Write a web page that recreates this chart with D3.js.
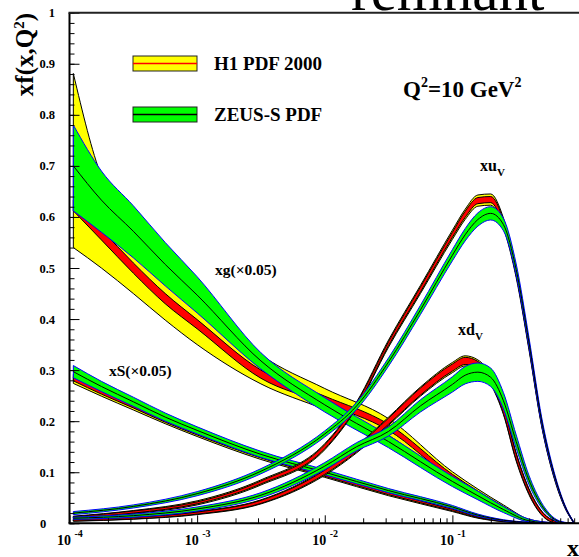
<!DOCTYPE html>
<html>
<head>
<meta charset="utf-8">
<script src="https://cdn.jsdelivr.net/npm/d3@7"></script>
<style>
  body { margin: 0; background: #fff; }
  svg text { font-family: 'Liberation Serif', 'Times New Roman', Times, serif; font-weight: bold; fill: #000; }
  .axis path, .axis line { stroke: #000; }
</style>
</head>
<body>
<div id="chart"></div>
<script>
// log10(x) sampling points
const logXGrid    = [-3.97, -3.75, -3.5, -3.25, -3, -2.5, -2, -1.5, -1, -0.8, -0.6, -0.4, -0.2, -0.05];
const logXValGrid = [-3.97, -3.5, -3, -2.5, -2, -1.75, -1.5, -1.25, -1, -0.9, -0.8, -0.7, -0.6, -0.5, -0.4, -0.3, -0.2, -0.12, -0.05];

// xg (x0.05), H1 band edges
const h1GluonTotHi = [0.881, 0.680, 0.600, 0.520, 0.445, 0.330, 0.264, 0.205, 0.101, 0.067, 0.036, 0.008, 0.001, 0];
const h1GluonExpHi = [0.632, 0.575, 0.510, 0.450, 0.399, 0.300, 0.249, 0.194, 0.096, 0.063, 0.033, 0.006, 0.0005, 0];
const h1GluonExpLo = [0.612, 0.555, 0.490, 0.430, 0.381, 0.284, 0.235, 0.182, 0.086, 0.055, 0.027, 0.004, 0.0001, 0];
const h1GluonTotLo = [0.540, 0.500, 0.450, 0.398, 0.350, 0.273, 0.223, 0.172, 0.080, 0.050, 0.024, 0.003, 0, 0];
// xg (x0.05), ZEUS-S
const zeusGluonHi  = [0.780, 0.690, 0.622, 0.550, 0.483, 0.334, 0.246, 0.172, 0.092, 0.063, 0.033, 0.008, 0.001, 0];
const zeusGluonMid = [0.700, 0.633, 0.572, 0.507, 0.447, 0.318, 0.232, 0.160, 0.082, 0.054, 0.027, 0.005, 0, 0];
const zeusGluonLo  = [0.612, 0.570, 0.520, 0.465, 0.412, 0.302, 0.218, 0.148, 0.072, 0.046, 0.021, 0.003, 0, 0];

// xS (x0.05)
const h1SeaMid   = [0.283, 0.257, 0.229, 0.201, 0.176, 0.130, 0.094, 0.058, 0.026, 0.012, 0.004, 0.001, 0, 0];
const h1SeaTot   = [0.009, 0.008, 0.007, 0.006, 0.006, 0.005, 0.004, 0.004, 0.003, 0.002, 0.001, 0.0005, 0, 0];
const h1SeaExp   = [0.004, 0.004, 0.003, 0.003, 0.003, 0.002, 0.002, 0.002, 0.0015, 0.001, 0.0005, 0, 0, 0];
const zeusSeaMid = [0.297, 0.268, 0.238, 0.208, 0.182, 0.135, 0.100, 0.064, 0.032, 0.016, 0.006, 0.0015, 0, 0];
const zeusSeaErr = [0.012, 0.010, 0.009, 0.008, 0.007, 0.006, 0.005, 0.004, 0.003, 0.002, 0.001, 0.0005, 0, 0];

// xuV
const h1XuvMid   = [0.012, 0.022, 0.040, 0.080, 0.150, 0.232, 0.352, 0.458, 0.565, 0.605, 0.632, 0.634, 0.588, 0.490, 0.348, 0.195, 0.090, 0.033, 0.002];
const h1XuvTot   = [0.002, 0.003, 0.004, 0.005, 0.006, 0.006, 0.007, 0.008, 0.009, 0.010, 0.011, 0.011, 0.010, 0.009, 0.008, 0.006, 0.004, 0.002, 0.001];
const h1XuvExp   = [0.001, 0.002, 0.002, 0.003, 0.004, 0.004, 0.004, 0.005, 0.005, 0.006, 0.006, 0.006, 0.006, 0.005, 0.005, 0.004, 0.002, 0.001, 0.0005];
const zeusXuvMid = [0.020, 0.033, 0.058, 0.102, 0.175, 0.230, 0.316, 0.418, 0.525, 0.565, 0.595, 0.607, 0.585, 0.497, 0.355, 0.200, 0.094, 0.035, 0.002];
const zeusXuvErr = [0.003, 0.003, 0.004, 0.005, 0.006, 0.007, 0.008, 0.009, 0.011, 0.012, 0.013, 0.013, 0.012, 0.011, 0.009, 0.007, 0.004, 0.002, 0.001];

// xdV
const h1XdvMid   = [0.006, 0.010, 0.020, 0.042, 0.100, 0.145, 0.200, 0.258, 0.305, 0.318, 0.310, 0.282, 0.222, 0.130, 0.062, 0.020, 0.003, 0.0005, 0];
const h1XdvTot   = [0.002, 0.002, 0.003, 0.004, 0.006, 0.007, 0.008, 0.009, 0.010, 0.010, 0.010, 0.010, 0.009, 0.008, 0.006, 0.004, 0.002, 0.001, 0];
const h1XdvExp   = [0.0015, 0.0015, 0.002, 0.003, 0.004, 0.005, 0.006, 0.007, 0.007, 0.007, 0.007, 0.007, 0.007, 0.006, 0.004, 0.003, 0.0015, 0.0005, 0];
const zeusXdvMid = [0.010, 0.015, 0.028, 0.055, 0.112, 0.150, 0.180, 0.230, 0.272, 0.290, 0.296, 0.286, 0.240, 0.160, 0.085, 0.035, 0.008, 0.001, 0];
const zeusXdvErr = [0.002, 0.003, 0.004, 0.005, 0.007, 0.008, 0.009, 0.012, 0.015, 0.017, 0.018, 0.018, 0.016, 0.013, 0.009, 0.005, 0.002, 0.001, 0];

const xDecades = [-4, -3, -2, -1];
const yMajor = [0, 0.1, 0.2, 0.3, 0.4, 0.5, 0.6, 0.7, 0.8, 0.9, 1];

const width = 579, height = 557;
const plot = { left: 69.5, right: 580, top: 12.7, bottom: 523.3 };

const x = d3.scaleLog().domain([1e-4, 1]).range([plot.left, plot.right]);
const y = d3.scaleLinear().domain([0, 1]).range([plot.bottom, plot.top]);

const svg = d3.select('#chart').append('svg')
    .attr('width', width)
    .attr('height', height);

// big title text from the page above, cut by the window
svg.append('text')
    .attr('x', 351).attr('y', 10)
    .style('font-weight', 'normal')
    .style('font-size', '59px')
    .text('remnant');

svg.append('clipPath').attr('id', 'clip')
  .append('rect')
    .attr('x', plot.left).attr('y', plot.top)
    .attr('width', plot.right - plot.left)
    .attr('height', plot.bottom - plot.top + 1);

const g = svg.append('g').attr('clip-path', 'url(#clip)');

const pts = (grid, lo, hi) => grid.map((l, i) => ({ x: Math.pow(10, l), lo: lo[i], hi: hi[i] }));

const area = d3.area()
    .curve(d3.curveMonotoneX)
    .x(d => x(d.x))
    .y0(d => y(d.lo))
    .y1(d => y(d.hi));

const line = d3.line()
    .curve(d3.curveMonotoneX)
    .x(d => x(d.x))
    .y(d => y(d.hi));

function band(grid, lo, hi, fill, stroke) {
  g.append('path')
      .datum(pts(grid, lo, hi))
      .attr('d', area)
      .attr('fill', fill)
      .attr('stroke', stroke)
      .attr('stroke-width', 1);
}

function curve(grid, vals, stroke) {
  g.append('path')
      .datum(pts(grid, vals, vals))
      .attr('d', line)
      .attr('fill', 'none')
      .attr('stroke', stroke)
      .attr('stroke-width', 1);
}

const minus = (m, e) => m.map((v, i) => v - e[i]);
const plus = (m, e) => m.map((v, i) => v + e[i]);

function h1Sym(grid, mid, tot, exp) {
  band(grid, minus(mid, tot), plus(mid, tot), '#ffff00', '#000');
  band(grid, minus(mid, exp), plus(mid, exp), '#ff0000', '#000');
}
function zeusSym(grid, mid, err) {
  band(grid, minus(mid, err), plus(mid, err), '#00ff00', '#0000ff');
  curve(grid, mid, '#000');
}

// gluon
band(logXGrid, h1GluonTotLo, h1GluonTotHi, '#ffff00', '#000');
band(logXGrid, h1GluonExpLo, h1GluonExpHi, '#ff0000', '#000');
band(logXGrid, zeusGluonLo, zeusGluonHi, '#00ff00', '#0000ff');
curve(logXGrid, zeusGluonMid, '#000');
// sea
h1Sym(logXGrid, h1SeaMid, h1SeaTot, h1SeaExp);
zeusSym(logXGrid, zeusSeaMid, zeusSeaErr);
// valence
h1Sym(logXValGrid, h1XuvMid, h1XuvTot, h1XuvExp);
zeusSym(logXValGrid, zeusXuvMid, zeusXuvErr);
h1Sym(logXValGrid, h1XdvMid, h1XdvTot, h1XdvExp);
zeusSym(logXValGrid, zeusXdvMid, zeusXdvErr);

// axes, ticks pointing into the frame
const yMinor = d3.range(0, 51).map(i => i * 0.02);
svg.append('g').attr('class', 'axis')
    .attr('transform', `translate(${plot.left},0)`)
    .call(d3.axisRight(y).tickValues(yMinor).tickSize(5).tickSizeOuter(0).tickFormat(''))
    .call(a => a.select('.domain').remove());
svg.append('g').attr('class', 'axis')
    .attr('transform', `translate(${plot.left},0)`)
    .call(d3.axisRight(y).tickValues(yMajor).tickSize(10).tickSizeOuter(0).tickFormat(''))
    .call(a => a.select('.domain').remove());

const xMinor = [];
xDecades.forEach(k => { for (let m = 2; m <= 9; m++) xMinor.push(m * Math.pow(10, k)); });
svg.append('g').attr('class', 'axis')
    .attr('transform', `translate(0,${plot.bottom})`)
    .call(d3.axisTop(x).tickValues(xMinor).tickSize(5).tickSizeOuter(0).tickFormat(''))
    .call(a => a.select('.domain').remove());
svg.append('g').attr('class', 'axis')
    .attr('transform', `translate(0,${plot.bottom})`)
    .call(d3.axisTop(x).tickValues(xDecades.map(k => Math.pow(10, k))).tickSize(8).tickSizeOuter(0).tickFormat(''))
    .call(a => a.select('.domain').remove());

// frame lines
svg.append('line')
    .attr('x1', plot.left).attr('x2', plot.left)
    .attr('y1', plot.top).attr('y2', plot.bottom)
    .attr('stroke', '#000').attr('stroke-width', 2);
svg.append('line')
    .attr('x1', plot.left - 1).attr('x2', width)
    .attr('y1', plot.bottom).attr('y2', plot.bottom)
    .attr('stroke', '#000').attr('stroke-width', 2);
svg.append('line')
    .attr('x1', plot.left - 1).attr('x2', width)
    .attr('y1', plot.top).attr('y2', plot.top)
    .attr('stroke', '#222').attr('stroke-width', 2);

// y tick labels
svg.append('g').selectAll('text')
  .data(yMajor)
  .join('text')
    .attr('x', d => d === 0 ? 40 : 55)
    .attr('y', d => y(d))
    .attr('dy', '0.36em')
    .attr('text-anchor', d => d === 0 ? 'start' : 'end')
    .style('font-size', '12.5px')
    .text(d => d === 0 || d === 1 ? d : d.toFixed(1));

// x tick labels 10^k
const xl = svg.append('g').selectAll('g')
  .data(xDecades)
  .join('g');
xl.append('text')
    .attr('x', d => x(Math.pow(10, d)) - 12.5)
    .attr('y', 545)
    .style('font-size', '14px')
    .text('10');
xl.append('text')
    .attr('x', d => x(Math.pow(10, d)) + 5)
    .attr('y', 537)
    .style('font-size', '10px')
    .text(d => '-' + Math.abs(d));

// axis titles
const yt = svg.append('text')
    .attr('transform', 'translate(33,13) rotate(-90)')
    .attr('text-anchor', 'end')
    .style('font-size', '25px');
yt.append('tspan').text('xf(x,Q');
yt.append('tspan').attr('dy', -9).style('font-size', '15px').text('2');
yt.append('tspan').attr('dy', 9).text(')');

svg.append('text')
    .attr('x', 567).attr('y', 556)
    .style('font-size', '24px')
    .text('x');

// legend
const legendItems = [
  { label: 'H1 PDF 2000', fill: '#ffff00', mid: '#ff0000', y: 63.5 },
  { label: 'ZEUS-S PDF', fill: '#00ff00', mid: '#000', y: 114.5 }
];
const lg = svg.append('g').selectAll('g').data(legendItems).join('g');
lg.append('rect')
    .attr('x', 133).attr('y', d => d.y - 7.5)
    .attr('width', 64).attr('height', 15)
    .attr('fill', d => d.fill)
    .attr('stroke', '#222').attr('stroke-width', 1);
lg.append('line')
    .attr('x1', 133).attr('x2', 197)
    .attr('y1', d => d.y).attr('y2', d => d.y)
    .attr('stroke', d => d.mid).attr('stroke-width', 1.5);
lg.append('text')
    .attr('x', 214).attr('y', d => d.y + 6.5)
    .style('font-size', '19px')
    .text(d => d.label);

// Q2 label
const q = svg.append('text')
    .attr('x', 403).attr('y', 97)
    .style('font-size', '23px');
q.append('tspan').text('Q');
q.append('tspan').attr('dy', -10).style('font-size', '14px').text('2');
q.append('tspan').attr('dy', 10).text('=10 GeV');
q.append('tspan').attr('dy', -10).style('font-size', '14px').text('2');

// curve labels
svg.append('text').attr('x', 215).attr('y', 275).style('font-size', '15.5px').text('xg(×0.05)');
svg.append('text').attr('x', 109).attr('y', 376).style('font-size', '15.5px').text('xS(×0.05)');

const uv = svg.append('text').attr('x', 480).attr('y', 171).style('font-size', '16px');
uv.append('tspan').text('xu');
uv.append('tspan').attr('dy', 5).style('font-size', '11px').text('V');

const dv = svg.append('text').attr('x', 458).attr('y', 335).style('font-size', '16px');
dv.append('tspan').text('xd');
dv.append('tspan').attr('dy', 5).style('font-size', '11px').text('V');
</script>
</body>
</html>
